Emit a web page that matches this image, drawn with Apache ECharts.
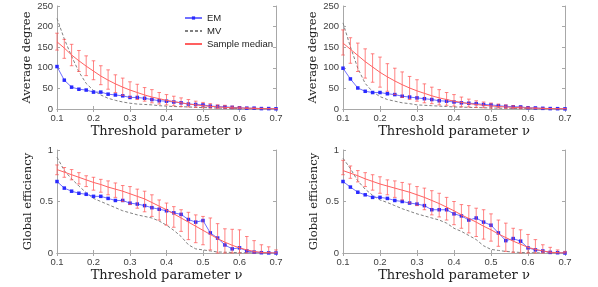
<!DOCTYPE html>
<html><head><meta charset="utf-8">
<script src="https://cdn.jsdelivr.net/npm/echarts@6/dist/echarts.min.js"></script>
<style>html,body{margin:0;padding:0;background:#fff}#c{width:598px;height:287px}</style>
</head><body><div id="c"></div>
<script>
const thresholds = [0.1,0.12,0.14,0.16,0.18,0.2,0.22,0.24,0.26,0.28,0.3,0.32,0.34,0.36,0.38,0.4,0.42,0.44,0.46,0.48,0.5,0.52,0.54,0.56,0.58,0.6,0.62,0.64,0.66,0.68,0.7];
const xTicks = [0.1,0.2,0.3,0.4,0.5,0.6,0.7];
const degreeTicks = [0,50,100,150,200,250];
const effTicks = [0,0.5,1];

// Top-left: average degree
const tlEM = [103,70,53,48,46,41,41,36,34,32,28,28,26,23,20,19,17,15,12,11,10,7,6,5,4,3,2,2,1,1,0.5];
const tlMV = [220,170,128,90,62,45,34,26,21,17,14,12,11,10,8,7,6,5.5,5,4,3.5,3,2.2,1.8,1.4,1.1,0.9,0.7,0.5,0.4,0.3];
const tlMed = [163,148,131,117,104,92,80,70,61,53,46,40,34,29,25,21,18,15,12,10,8,6.5,5,4,3,2.5,2,1.5,1,0.7,0.5];
const tlHi = [184,169,157,142,129,117,105,95,83,75,66,60,52,47,40,35,31,27,23,19,16,13,10,9,7,5.5,4,3,2,1.5,1];
const tlLo = [143,123,105,91,81,71,59,48,40,33,28,23,19,15,12,10,8,6,5,4,3,2,1.5,1.5,1,1,0.8,0.6,0.4,0.3,0.2];

// Top-right: average degree
const trEM = [99,73,51,43,40,40,37,35,31,29,27,25,23,20,19,17,15,14,13,11,10,8,6.5,5.5,5,3,2.5,1.6,1,0.8,0.4];
const trMV = [209,151,99,62,42,30,23,19,15,13,10,9,8,7,6,5,4.5,4,3.5,3,2.5,2,1.7,1.5,1.2,1,0.8,0.6,0.5,0.4,0.3];
const trMed = [160,145,130,115,102,89,78,68,59,51,44,38,32,27,23,19,16,13,11,9,7.5,6,5,4,3,2.5,2,1.5,1,0.7,0.5];
const trHi = [192,173,160,146,134,126,110,99,90,79,71,61,53,47,40,35,29,24,20,17,14.5,12,10,8,6.5,5,3,2.4,1.6,1,1];
const trLo = [131,111,91,75,65,53,43,35,28,23,19,15,13,10,9,7,5.6,5,4,3,2.4,2.4,1.6,1.6,0.8,0.8,0.5,0.4,0.3,0.2,0.2];

// Bottom-left: global efficiency
const blEM = [0.694,0.63,0.60,0.58,0.57,0.55,0.55,0.53,0.51,0.51,0.484,0.475,0.46,0.44,0.425,0.41,0.39,0.375,0.325,0.30,0.315,0.195,0.145,0.078,0.04,0.05,0.02,0.009,0.003,0.001,0];
const blMV = [0.93,0.80,0.72,0.65,0.585,0.53,0.50,0.47,0.44,0.41,0.39,0.37,0.355,0.34,0.31,0.27,0.22,0.16,0.08,0.04,0.03,0.02,0.01,0.008,0.005,0.003,0.002,0.001,0,0,0];
const blMed = [0.81,0.785,0.76,0.735,0.71,0.685,0.665,0.64,0.62,0.60,0.575,0.55,0.525,0.49,0.455,0.42,0.38,0.34,0.30,0.26,0.22,0.18,0.14,0.105,0.075,0.05,0.03,0.015,0.006,0.002,0];
const blHi = [0.855,0.83,0.81,0.78,0.75,0.735,0.715,0.70,0.68,0.655,0.645,0.62,0.60,0.565,0.515,0.485,0.45,0.42,0.395,0.37,0.355,0.34,0.285,0.235,0.23,0.225,0.16,0.12,0.08,0.06,0.03];
const blLo = [0.76,0.735,0.71,0.67,0.645,0.61,0.59,0.565,0.54,0.50,0.47,0.435,0.40,0.355,0.32,0.27,0.25,0.21,0.13,0.10,0.08,0.03,0,0,0,0,0,0,0,0,0];

// Bottom-right: global efficiency
const brEM = [0.694,0.64,0.59,0.565,0.54,0.54,0.53,0.51,0.50,0.485,0.475,0.46,0.42,0.42,0.42,0.38,0.36,0.32,0.34,0.30,0.27,0.195,0.12,0.14,0.115,0.05,0.03,0.02,0.006,0.003,0];
const brMV = [0.92,0.82,0.70,0.62,0.56,0.515,0.49,0.46,0.43,0.405,0.38,0.36,0.34,0.32,0.29,0.24,0.21,0.17,0.13,0.07,0.035,0.025,0.015,0.01,0.005,0.003,0.002,0.001,0,0,0];
const brMed = [0.80,0.775,0.75,0.72,0.695,0.67,0.65,0.63,0.61,0.59,0.565,0.54,0.51,0.48,0.445,0.41,0.37,0.335,0.30,0.26,0.225,0.185,0.15,0.115,0.085,0.055,0.035,0.02,0.008,0.003,0];
const brHi = [0.90,0.845,0.80,0.78,0.76,0.74,0.71,0.70,0.685,0.67,0.645,0.63,0.605,0.58,0.54,0.50,0.47,0.46,0.435,0.42,0.38,0.32,0.29,0.24,0.225,0.18,0.13,0.08,0.055,0.03,0.016];
const brLo = [0.76,0.725,0.69,0.645,0.61,0.58,0.565,0.54,0.515,0.485,0.46,0.42,0.37,0.35,0.32,0.275,0.24,0.195,0.16,0.135,0.115,0.065,0.016,0.006,0,0,0,0,0,0,0];

const panels = [
  {grid:{left:57,top:6,width:219,height:103}, yName:'Average degree', yTicks:degreeTicks, em:tlEM, mv:tlMV, med:tlMed, hi:tlHi, lo:tlLo},
  {grid:{left:343,top:6,width:222,height:103}, yName:'Average degree', yTicks:degreeTicks, em:trEM, mv:trMV, med:trMed, hi:trHi, lo:trLo},
  {grid:{left:57,top:150,width:219,height:103}, yName:'Global efficiency', yTicks:effTicks, em:blEM, mv:blMV, med:blMed, hi:blHi, lo:blLo},
  {grid:{left:343,top:150,width:222,height:103}, yName:'Global efficiency', yTicks:effTicks, em:brEM, mv:brMV, med:brMed, hi:brHi, lo:brLo}
];

const axisCol = '#a8a8a8';
const labelCol = '#404040';
const serif = 'DejaVu Serif';
const sans = 'Liberation Sans';
const red = '#ff6060';
const grids = [], xAxes = [], yAxes = [], series = [];

function pair(xs, ys){ return xs.map((x,i)=>[x, ys[i]]); }

panels.forEach((p, i) => {
  grids.push(Object.assign({containLabel:false}, p.grid));
  const yMax = p.yTicks[p.yTicks.length-1];
  const yInt = p.yTicks[1]-p.yTicks[0];
  const common = {min:0.1, max:0.7, interval:0.1, gridIndex:i, splitLine:{show:false},
    axisLine:{show:true, lineStyle:{color:axisCol, width:1}},
    axisTick:{show:true, inside:true, length:3, lineStyle:{color:axisCol}}};
  xAxes.push(Object.assign({type:'value', position:'bottom',
    name:'Threshold parameter ν', nameLocation:'middle', nameGap:16,
    nameTextStyle:{fontFamily:serif, fontSize:13, color:'#222'},
    axisLabel:{show:true, fontFamily:sans, fontSize:9.5, color:labelCol, margin:4,
      formatter:v=>String(+v.toFixed(1))}}, common));
  xAxes.push(Object.assign({type:'value', position:'top', axisLabel:{show:false}}, common));
  const ycommon = {type:'value', min:0, max:yMax, interval:yInt, gridIndex:i, splitLine:{show:false},
    axisLine:{show:true, lineStyle:{color:axisCol, width:1}},
    axisTick:{show:true, inside:true, length:3, lineStyle:{color:axisCol}}};
  yAxes.push(Object.assign({position:'left', name:p.yName, nameLocation:'middle', nameGap:23,
    nameTextStyle:{fontFamily:serif, fontSize:11.5, color:'#222'},
    axisLabel:{show:true, fontFamily:sans, fontSize:9.5, color:labelCol, margin:4}}, ycommon));
  yAxes.push(Object.assign({position:'right', axisLabel:{show:false}}, ycommon));

  const xi = 2*i, yi = 2*i;
  series.push({name:'EM', type:'line', xAxisIndex:xi, yAxisIndex:yi, data:pair(thresholds,p.em),
    symbol:'rect', symbolSize:3.5, showSymbol:true, lineStyle:{color:'#7070ff', width:1},
    itemStyle:{color:'#2a2aff'}, z:3, animation:false});
  series.push({name:'MV', type:'line', xAxisIndex:xi, yAxisIndex:yi, data:pair(thresholds,p.mv),
    symbol:'none', lineStyle:{color:'#808080', width:1, type:[3,2]}, itemStyle:{color:'#808080'}, z:2, animation:false});
  series.push({name:'Sample median', type:'line', xAxisIndex:xi, yAxisIndex:yi, data:pair(thresholds,p.med),
    symbol:'none', lineStyle:{color:red, width:1}, itemStyle:{color:red}, z:4, animation:false});
  series.push({name:'err', type:'custom', xAxisIndex:xi, yAxisIndex:yi, z:4, animation:false,
    data: thresholds.map((x,k)=>[x, p.lo[k], p.hi[k]]),
    encode:{x:0, y:[1,2]},
    renderItem:(params, api)=>{
      const x = api.value(0), lo = api.value(1), hi = api.value(2);
      const a = api.coord([x, hi]), b = api.coord([x, lo]);
      const w = 1.8;
      const st = {stroke:'rgba(255,80,80,0.7)', lineWidth:1};
      return {type:'group', children:[
        {type:'line', shape:{x1:a[0], y1:a[1], x2:b[0], y2:b[1]}, style:st},
        {type:'line', shape:{x1:a[0]-w, y1:a[1], x2:a[0]+w, y2:a[1]}, style:st},
        {type:'line', shape:{x1:b[0]-w, y1:b[1], x2:b[0]+w, y2:b[1]}, style:st}
      ]};
    }});
});

const chart = echarts.init(document.getElementById('c'), null, {renderer:'canvas'});
chart.setOption({
  animation:false,
  backgroundColor:'#fff',
  grid:grids, xAxis:xAxes, yAxis:yAxes, series:series,
  legend:{
    data:[
      {name:'EM'},
      {name:'MV', itemStyle:{opacity:0}},
      {name:'Sample median', itemStyle:{opacity:0}}
    ],
    orient:'vertical', left:184, top:13,
    itemWidth:17, itemHeight:4, itemGap:3, padding:0,
    textStyle:{fontFamily:sans, fontSize:9.5, color:'#222'}}
});
</script></body></html>
